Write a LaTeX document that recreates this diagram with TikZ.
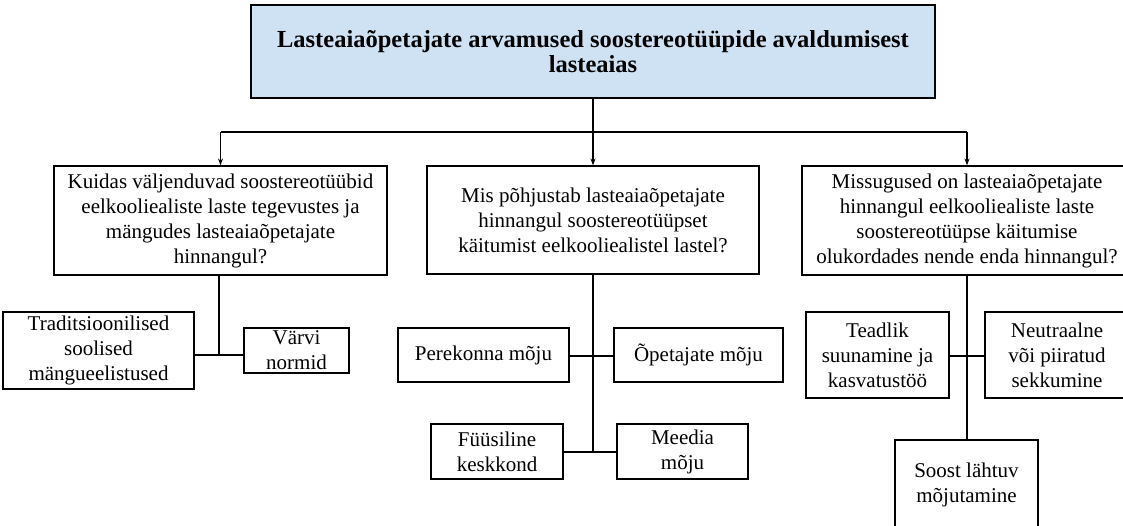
\documentclass[tikz,border=0pt]{standalone}
\usepackage{fontspec}
\setmainfont{Liberation Serif}
\usetikzlibrary{arrows.meta}
\definecolor{titlefill}{HTML}{CFE2F3}
\begin{document}
\begin{tikzpicture}[x=1pt,y=-1pt,
  box/.style={draw=black, line width=1.2pt, align=center, inner sep=0pt,
    font=\fontsize{21}{25}\selectfont},
  titlebox/.style={box, fill=titlefill, font=\fontsize{24.5}{25.5}\selectfont\bfseries},
  conn/.style={draw=black, line width=1.1pt},
  arr/.style={conn, -{Stealth[length=7pt,width=5pt]}}
]
\useasboundingbox (0,0) rectangle (1123,525);
\clip (0,0) rectangle (1123,525);

% title
\node[titlebox, minimum width=684pt, minimum height=93pt] (top) at (593,51.5)
  {Lasteaiaõpetajate arvamused soostereotüüpide avaldumisest\\lasteaias};

% level 1
\node[box, minimum width=333pt, minimum height=109pt] (L1) at (220.5,220.5)
  {Kuidas väljenduvad soostereotüübid\\eelkooliealiste laste tegevustes ja\\mängudes lasteaiaõpetajate\\hinnangul?};
\node[box, minimum width=332pt, minimum height=108pt] (M1) at (593,220)
  {Mis põhjustab lasteaiaõpetajate\\hinnangul soostereotüüpset\\käitumist eelkooliealistel lastel?};
\node[box, minimum width=330pt, minimum height=109pt] (R1) at (967,220.5)
  {Missugused on lasteaiaõpetajate\\hinnangul eelkooliealiste laste\\soostereotüüpse käitumise\\olukordades nende enda hinnangul?};

% branch coordinates
\coordinate (bar) at (593,132);
\draw[conn] (top.south) -- (bar);
\draw[conn] (L1.north |- bar) -- (R1.north |- bar);
\draw[arr] (bar) -- (M1.north);
\draw[arr] (L1.north |- bar) -- (L1.north);
\draw[arr] (R1.north |- bar) -- (R1.north);

% left children
\node[box, minimum width=191pt, minimum height=77pt] (Trad) at (98.5,350.5)
  {Traditsioonilised\\soolised\\mängueelistused};
\node[box, minimum width=105pt, minimum height=45pt] (Varvi) at (296.5,350.5)
  {Värvi\\normid};
\coordinate (jL) at (219,355);
\draw[conn] (L1.south -| jL) -- (jL);
\draw[conn] (Trad.east |- jL) -- (Varvi.west |- jL);

% middle children
\node[box, minimum width=171pt, minimum height=54pt] (Pere) at (483.5,355)
  {Perekonna mõju};
\node[box, minimum width=169pt, minimum height=54pt] (Opet) at (698.5,355)
  {Õpetajate mõju};
\node[box, minimum width=132pt, minimum height=55pt] (Fuus) at (497,451.5)
  {Füüsiline\\keskkond};
\node[box, minimum width=131pt, minimum height=55pt] (Meed) at (682.5,451.5)
  {Meedia\\mõju};
\coordinate (jM1) at (593,356);
\coordinate (jM2) at (593,452);
\draw[conn] (M1.south) -- (jM2);
\draw[conn] (Pere.east |- jM1) -- (Opet.west |- jM1);
\draw[conn] (Fuus.east |- jM2) -- (Meed.west |- jM2);

% right children
\node[box, minimum width=143pt, minimum height=86pt] (Tead) at (877.5,355)
  {Teadlik\\suunamine ja\\kasvatustöö};
\node[box, minimum width=144pt, minimum height=86pt] (Neut) at (1057,355)
  {Neutraalne\\või piiratud\\sekkumine};
\node[box, minimum width=143pt, minimum height=90pt] (Soost) at (966.5,485)
  {Soost lähtuv\\mõjutamine};
\coordinate (jR) at (967,356);
\draw[conn] (R1.south) -- (R1.south |- Soost.north);
\draw[conn] (Tead.east |- jR) -- (Neut.west |- jR);
\end{tikzpicture}
\end{document}
